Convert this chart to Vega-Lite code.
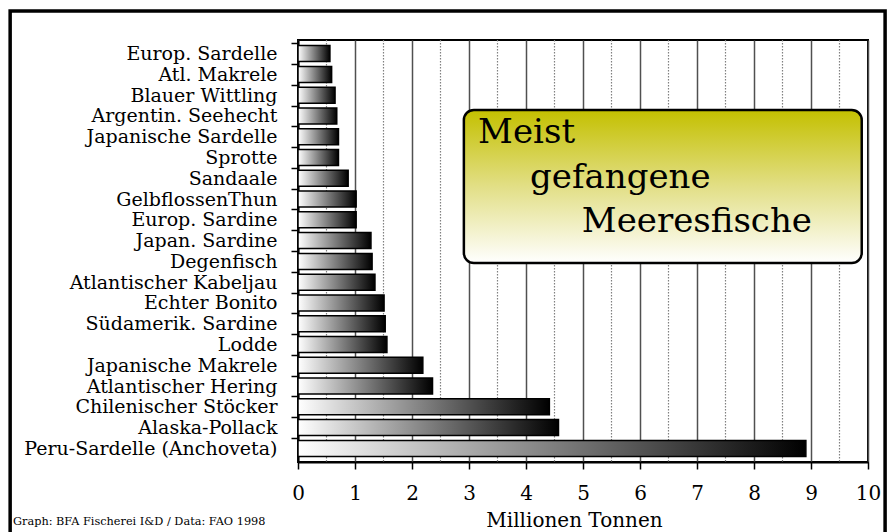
{
  "$schema": "https://vega.github.io/schema/vega-lite/v6.json",
  "width": 570,
  "height": 422,
  "autosize": {"type": "none"},
  "padding": {"left": 298, "top": 40, "right": 20, "bottom": 70},
  "background": "white",
  "config": {
    "view": {"stroke": "black", "strokeWidth": 2},
    "font": "DejaVu Serif"
  },
  "datasets": {
    "fish": [
      {"fish": "Europ. Sardelle", "value": 0.56},
      {"fish": "Atl. Makrele", "value": 0.59},
      {"fish": "Blauer Wittling", "value": 0.65},
      {"fish": "Argentin. Seehecht", "value": 0.68},
      {"fish": "Japanische Sardelle", "value": 0.71},
      {"fish": "Sprotte", "value": 0.71},
      {"fish": "Sandaale", "value": 0.88},
      {"fish": "GelbflossenThun", "value": 1.02},
      {"fish": "Europ. Sardine", "value": 1.02},
      {"fish": "Japan. Sardine", "value": 1.28},
      {"fish": "Degenfisch", "value": 1.30},
      {"fish": "Atlantischer Kabeljau", "value": 1.35},
      {"fish": "Echter Bonito", "value": 1.51},
      {"fish": "Südamerik. Sardine", "value": 1.53},
      {"fish": "Lodde", "value": 1.56},
      {"fish": "Japanische Makrele", "value": 2.19},
      {"fish": "Atlantischer Hering", "value": 2.36},
      {"fish": "Chilenischer Stöcker", "value": 4.41},
      {"fish": "Alaska-Pollack", "value": 4.57},
      {"fish": "Peru-Sardelle (Anchoveta)", "value": 8.91}
    ],
    "halfTicks": [
      {"tick": 0.5}, {"tick": 1.5}, {"tick": 2.5}, {"tick": 3.5}, {"tick": 4.5},
      {"tick": 5.5}, {"tick": 6.5}, {"tick": 7.5}, {"tick": 8.5}, {"tick": 9.5}
    ],
    "one": [{"k": 1}]
  },
  "resolve": {"scale": {"y": "independent"}, "axis": {"y": "independent"}},
  "layer": [
    {
      "data": {"name": "halfTicks"},
      "mark": {"type": "rule", "color": "#808080", "strokeWidth": 1.2, "strokeDash": [1.5, 1.5]},
      "encoding": {
        "x": {"field": "tick", "type": "quantitative", "scale": {"domain": [0, 10], "nice": false}}
      }
    },
    {
      "data": {"name": "fish"},
      "mark": {
        "type": "bar",
        "stroke": "black",
        "strokeWidth": 1.5,
        "fill": {
          "gradient": "linear",
          "x1": 0, "y1": 0, "x2": 1, "y2": 0,
          "stops": [
            {"offset": 0, "color": "#ffffff"},
            {"offset": 1, "color": "#000000"}
          ]
        }
      },
      "encoding": {
        "y": {
          "field": "fish",
          "type": "nominal",
          "sort": null,
          "scale": {"paddingInner": 0.23, "paddingOuter": 0.27},
          "axis": {
            "title": null,
            "labelFont": "DejaVu Serif",
            "labelFontSize": 19,
            "labelColor": "black",
            "labelLimit": 400,
            "labelPadding": 14,
            "domainColor": "black",
            "domainWidth": 2,
            "tickColor": "black",
            "tickWidth": 1.5,
            "tickSize": 7,
            "tickOffset": -10.4,
            "labelOffset": 10.4
          }
        },
        "x": {
          "field": "value",
          "type": "quantitative",
          "scale": {"domain": [0, 10], "nice": false},
          "axis": {
            "title": "Millionen Tonnen",
            "values": [0, 0.5, 1, 1.5, 2, 2.5, 3, 3.5, 4, 4.5, 5, 5.5, 6, 6.5, 7, 7.5, 8, 8.5, 9, 9.5, 10],
            "labelExpr": "datum.value % 1 === 0 ? '' + datum.value : ''",
            "labelFlush": false,
            "labelOverlap": false,
            "labelBound": false,
            "grid": true,
            "gridColor": "#505050",
            "gridOpacity": {"condition": {"test": "datum.value % 1 === 0", "value": 1}, "value": 0},
            "gridWidth": 1.5,
            "domainColor": "black",
            "domainWidth": 2,
            "tickColor": "black",
            "tickWidth": 1.5,
            "tickSize": 7,
            "labelFont": "DejaVu Serif",
            "labelFontSize": 20,
            "labelColor": "black",
            "labelPadding": 14,
            "titleFont": "DejaVu Serif",
            "titleFontSize": 20,
            "titleFontWeight": "normal",
            "titleColor": "black",
            "titlePadding": 7,
            "titleX": 276
          }
        }
      }
    },
    {
      "data": {"name": "one"},
      "mark": {"type": "rect", "fill": null, "fillOpacity": 0, "stroke": "black", "strokeWidth": 3.5, "clip": false},
      "encoding": {
        "x": {"datum": -5.05, "type": "quantitative", "scale": {"domain": [0, 10], "nice": false}},
        "x2": {"datum": 10.3},
        "y": {"datum": 21.37, "type": "quantitative", "scale": {"domain": [0, 20], "nice": false, "zero": false}, "axis": null},
        "y2": {"datum": -3.6}
      }
    },
    {
      "data": {"name": "one"},
      "mark": {
        "type": "rect",
        "cornerRadius": 10,
        "stroke": "black",
        "strokeWidth": 2.5,
        "fill": {
          "gradient": "linear",
          "x1": 0, "y1": 0, "x2": 0, "y2": 1,
          "stops": [
            {"offset": 0, "color": "#c4c000"},
            {"offset": 0.5, "color": "#e2df86"},
            {"offset": 1, "color": "#ffffff"}
          ]
        }
      },
      "encoding": {
        "x": {"datum": 2.91, "type": "quantitative", "scale": {"domain": [0, 10], "nice": false}},
        "x2": {"datum": 9.89},
        "y": {"datum": 16.68, "type": "quantitative", "scale": {"domain": [0, 20], "nice": false, "zero": false}, "axis": null},
        "y2": {"datum": 9.43}
      }
    },
    {
      "data": {"name": "one"},
      "mark": {"type": "text", "text": "Meist", "align": "left", "baseline": "alphabetic", "font": "DejaVu Serif", "fontSize": 34, "color": "black"},
      "encoding": {
        "x": {"datum": 3.16, "type": "quantitative", "scale": {"domain": [0, 10], "nice": false}},
        "y": {"datum": 15.12, "type": "quantitative", "scale": {"domain": [0, 20], "nice": false, "zero": false}, "axis": null}
      }
    },
    {
      "data": {"name": "one"},
      "mark": {"type": "text", "text": "gefangene", "align": "left", "baseline": "alphabetic", "font": "DejaVu Serif", "fontSize": 34, "color": "black"},
      "encoding": {
        "x": {"datum": 4.07, "type": "quantitative", "scale": {"domain": [0, 10], "nice": false}},
        "y": {"datum": 12.99, "type": "quantitative", "scale": {"domain": [0, 20], "nice": false, "zero": false}, "axis": null}
      }
    },
    {
      "data": {"name": "one"},
      "mark": {"type": "text", "text": "Meeresfische", "align": "left", "baseline": "alphabetic", "font": "DejaVu Serif", "fontSize": 34, "color": "black"},
      "encoding": {
        "x": {"datum": 4.98, "type": "quantitative", "scale": {"domain": [0, 10], "nice": false}},
        "y": {"datum": 10.9, "type": "quantitative", "scale": {"domain": [0, 20], "nice": false, "zero": false}, "axis": null}
      }
    },
    {
      "data": {"name": "one"},
      "mark": {"type": "text", "text": "Graph: BFA Fischerei I&D / Data: FAO 1998", "align": "left", "baseline": "alphabetic", "font": "DejaVu Serif", "fontSize": 11.3, "color": "black", "clip": false},
      "encoding": {
        "x": {"datum": -5.0, "type": "quantitative", "scale": {"domain": [0, 10], "nice": false}},
        "y": {"datum": -3.0, "type": "quantitative", "scale": {"domain": [0, 20], "nice": false, "zero": false}, "axis": null}
      }
    }
  ]
}
